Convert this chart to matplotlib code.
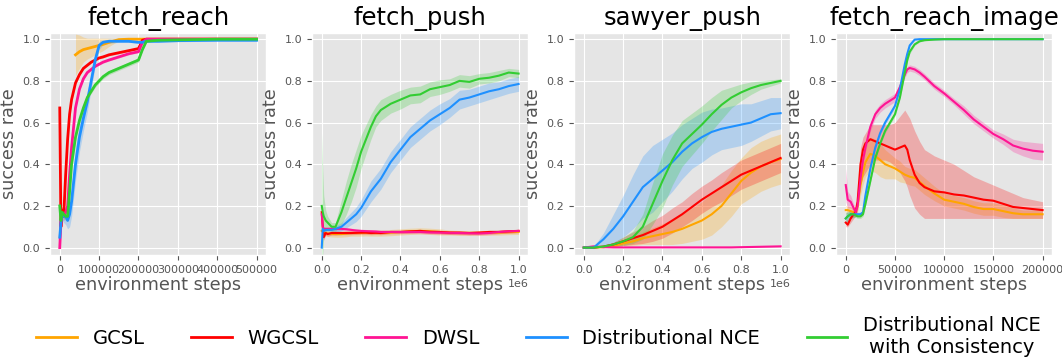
import numpy as np
import matplotlib
matplotlib.use("Agg")
import matplotlib.pyplot as plt
from matplotlib.lines import Line2D

plt.style.use("ggplot")

# method names / colours
methods = ["GCSL", "WGCSL", "DWSL", "Distributional NCE", "Distributional NCE\nwith Consistency"]
colors = ["orange", "red", "deeppink", "dodgerblue", "limegreen"]

# ---- fetch_reach ----
reach_x = [0, 3000, 6000, 10000, 15000, 20000, 25000, 30000, 40000, 50000, 60000, 70000, 80000,
           90000, 100000, 110000, 125000, 150000, 175000, 200000, 210000, 220000, 250000, 300000,
           400000, 500000]
reach_gcsl_x = [40000, 50000, 60000, 70000, 80000, 90000, 100000, 110000, 125000, 150000, 175000,
                200000, 250000, 300000, 400000, 500000]
reach_gcsl = [0.925, 0.94, 0.95, 0.955, 0.96, 0.965, 0.97, 0.975, 0.985, 0.998, 1.0, 1.0, 1.0, 1.0, 1.0, 1.0]
reach_gcsl_sd = [0.1, 0.08, 0.06, 0.05, 0.045, 0.04, 0.035, 0.03, 0.02, 0.005, 0.002, 0.0, 0.0, 0.0, 0.0, 0.0]
reach_wgcsl = [0.67, 0.1, 0.18, 0.15, 0.35, 0.52, 0.64, 0.71, 0.79, 0.83, 0.86, 0.875, 0.89, 0.9,
               0.91, 0.915, 0.925, 0.935, 0.945, 0.955, 0.995, 1.0, 1.0, 1.0, 1.0, 1.0]
reach_wgcsl_sd = [0.0, 0.02, 0.02, 0.02, 0.02, 0.01, 0.01, 0.01, 0.005, 0.005, 0.005, 0.005, 0.005,
                  0.005, 0.005, 0.005, 0.005, 0.005, 0.005, 0.005, 0.003, 0.0, 0.0, 0.0, 0.0, 0.0]
reach_dwsl = [0.0, 0.12, 0.16, 0.15, 0.17, 0.2, 0.35, 0.48, 0.67, 0.76, 0.81, 0.84, 0.855, 0.87,
              0.88, 0.89, 0.9, 0.915, 0.93, 0.94, 0.985, 1.0, 1.0, 1.0, 1.0, 1.0]
reach_dwsl_sd = [0.0, 0.04, 0.03, 0.02, 0.02, 0.02, 0.01, 0.01, 0.005, 0.005, 0.005, 0.005, 0.005,
                 0.005, 0.005, 0.005, 0.005, 0.005, 0.005, 0.005, 0.003, 0.0, 0.0, 0.0, 0.0, 0.0]
reach_dnce = [0.05, 0.12, 0.16, 0.15, 0.15, 0.13, 0.16, 0.22, 0.4, 0.53, 0.62, 0.7, 0.8, 0.9, 0.97,
              0.985, 0.99, 0.99, 0.99, 0.985, 0.985, 0.99, 0.99, 0.993, 0.995, 0.995]
reach_dnce_sd = [0.04, 0.04, 0.03, 0.03, 0.04, 0.04, 0.06, 0.07, 0.08, 0.07, 0.06, 0.05, 0.04, 0.03,
                 0.02, 0.01, 0.01, 0.005, 0.005, 0.005, 0.005, 0.005, 0.005, 0.005, 0.005, 0.005]
reach_dnce_c = [0.2, 0.13, 0.17, 0.16, 0.15, 0.15, 0.27, 0.4, 0.53, 0.61, 0.67, 0.72, 0.75, 0.78, 0.8,
                0.82, 0.84, 0.86, 0.88, 0.9, 0.95, 0.99, 0.995, 0.997, 1.0, 1.0]
reach_dnce_c_sd = [0.03, 0.03, 0.02, 0.02, 0.02, 0.02, 0.02, 0.02, 0.015, 0.01, 0.01, 0.01, 0.01, 0.01,
                   0.01, 0.01, 0.01, 0.01, 0.01, 0.01, 0.005, 0.003, 0.0, 0.0, 0.0, 0.0]

# ---- fetch_push ----
push_x = [0, 5e3, 1e4, 2e4, 3e4, 5e4, 7e4, 1e5, 1.25e5, 1.5e5, 1.75e5, 2e5, 2.25e5, 2.5e5, 2.75e5,
          3e5, 3.5e5, 4e5, 4.5e5, 5e5, 5.5e5, 6e5, 6.5e5, 7e5, 7.5e5, 8e5, 8.5e5, 9e5, 9.5e5, 1e6]
push_gcsl = [0.08, 0.075, 0.07, 0.07, 0.068, 0.066, 0.065, 0.065, 0.067, 0.07, 0.07, 0.07, 0.071,
             0.07, 0.07, 0.07, 0.072, 0.075, 0.078, 0.08, 0.078, 0.075, 0.072, 0.07, 0.07, 0.07,
             0.071, 0.072, 0.074, 0.075]
push_gcsl_sd = [0.02, 0.02, 0.015, 0.015, 0.015, 0.015, 0.015, 0.015, 0.015, 0.015, 0.015, 0.015,
                0.015, 0.015, 0.015, 0.015, 0.015, 0.015, 0.015, 0.015, 0.015, 0.015, 0.012, 0.012,
                0.012, 0.012, 0.012, 0.012, 0.012, 0.012]
push_wgcsl = [0.17, 0.1, 0.05, 0.07, 0.065, 0.07, 0.07, 0.07, 0.07, 0.07, 0.071, 0.072, 0.072, 0.07,
              0.071, 0.07, 0.075, 0.075, 0.078, 0.08, 0.076, 0.075, 0.072, 0.072, 0.07, 0.072, 0.075,
              0.075, 0.078, 0.08]
push_wgcsl_sd = [0.01, 0.02, 0.015, 0.01, 0.01, 0.01, 0.01, 0.008, 0.008, 0.008, 0.008, 0.008, 0.008,
                 0.008, 0.008, 0.008, 0.008, 0.008, 0.008, 0.008, 0.008, 0.008, 0.008, 0.008, 0.008,
                 0.008, 0.008, 0.008, 0.008, 0.008]
push_dwsl = [0.16, 0.1, 0.09, 0.09, 0.09, 0.09, 0.09, 0.09, 0.088, 0.085, 0.082, 0.08, 0.079, 0.078,
             0.077, 0.075, 0.075, 0.075, 0.075, 0.075, 0.073, 0.072, 0.071, 0.07, 0.069, 0.068, 0.07,
             0.075, 0.078, 0.08]
push_dwsl_sd = [0.01, 0.01, 0.008, 0.008, 0.008, 0.008, 0.008, 0.008, 0.008, 0.008, 0.008, 0.008,
                0.008, 0.008, 0.008, 0.008, 0.008, 0.008, 0.008, 0.008, 0.008, 0.008, 0.008, 0.008,
                0.008, 0.008, 0.008, 0.008, 0.008, 0.008]
push_dnce = [0.0, 0.09, 0.08, 0.085, 0.085, 0.085, 0.09, 0.1, 0.12, 0.14, 0.16, 0.19, 0.23, 0.27, 0.3,
             0.33, 0.41, 0.47, 0.53, 0.57, 0.61, 0.64, 0.67, 0.71, 0.72, 0.735, 0.75, 0.76, 0.775, 0.785]
push_dnce_sd = [0.01, 0.015, 0.01, 0.01, 0.01, 0.01, 0.015, 0.02, 0.025, 0.03, 0.035, 0.04, 0.045,
                0.05, 0.05, 0.05, 0.05, 0.05, 0.05, 0.05, 0.05, 0.05, 0.045, 0.045, 0.04, 0.04, 0.04,
                0.035, 0.035, 0.035]
push_dnce_c = [0.2, 0.17, 0.15, 0.13, 0.12, 0.1, 0.1, 0.17, 0.24, 0.31, 0.38, 0.46, 0.52, 0.58, 0.63,
               0.66, 0.69, 0.71, 0.73, 0.735, 0.76, 0.77, 0.78, 0.8, 0.795, 0.81, 0.815, 0.825, 0.84, 0.835]
push_dnce_c_sd = [0.35, 0.2, 0.1, 0.05, 0.03, 0.02, 0.02, 0.06, 0.08, 0.09, 0.09, 0.08, 0.07, 0.06,
                  0.05, 0.05, 0.045, 0.045, 0.04, 0.04, 0.035, 0.035, 0.03, 0.03, 0.03, 0.025, 0.025,
                  0.025, 0.02, 0.02]

# ---- sawyer_push ----
sawyer_x = [0, 5e4, 1e5, 1.5e5, 2e5, 2.5e5, 3e5, 3.5e5, 4e5, 4.5e5, 5e5, 5.5e5, 6e5, 6.5e5, 7e5,
            7.5e5, 8e5, 8.5e5, 9e5, 9.5e5, 1e6]
sawyer_gcsl = [0, 0, 0.002, 0.008, 0.02, 0.03, 0.045, 0.055, 0.065, 0.075, 0.09, 0.11, 0.13, 0.16,
               0.2, 0.26, 0.32, 0.36, 0.39, 0.41, 0.425]
sawyer_gcsl_sd = [0, 0, 0.002, 0.005, 0.01, 0.02, 0.03, 0.04, 0.05, 0.06, 0.07, 0.08, 0.09, 0.1, 0.1,
                  0.11, 0.11, 0.12, 0.12, 0.12, 0.12]
sawyer_wgcsl = [0, 0, 0.005, 0.015, 0.03, 0.045, 0.06, 0.08, 0.1, 0.13, 0.16, 0.195, 0.23, 0.26, 0.29,
                0.32, 0.35, 0.37, 0.39, 0.41, 0.43]
sawyer_wgcsl_sd = [0, 0, 0.005, 0.01, 0.02, 0.03, 0.04, 0.05, 0.055, 0.06, 0.06, 0.065, 0.065, 0.065,
                   0.07, 0.07, 0.07, 0.07, 0.07, 0.07, 0.07]
sawyer_dwsl = [0, 0.006, 0.002, 0.001, 0.001, 0.001, 0.001, 0.001, 0.001, 0.001, 0.001, 0.001, 0.001,
               0.001, 0.001, 0.001, 0.002, 0.003, 0.004, 0.005, 0.006]
sawyer_dwsl_sd = [0, 0.002, 0.001, 0.001, 0.001, 0.001, 0.001, 0.001, 0.001, 0.001, 0.001, 0.001,
                  0.001, 0.001, 0.001, 0.001, 0.001, 0.001, 0.001, 0.001, 0.001]
sawyer_dnce = [0, 0.0, 0.04, 0.09, 0.15, 0.22, 0.29, 0.33, 0.37, 0.41, 0.46, 0.5, 0.53, 0.555, 0.57,
               0.58, 0.59, 0.6, 0.62, 0.64, 0.645]
sawyer_dnce_sd = [0, 0.005, 0.03, 0.07, 0.1, 0.13, 0.15, 0.16, 0.15, 0.14, 0.13, 0.12, 0.12, 0.11, 0.1,
                  0.1, 0.1, 0.09, 0.085, 0.08, 0.075]
sawyer_dnce_c = [0, 0, 0.005, 0.015, 0.03, 0.05, 0.1, 0.21, 0.32, 0.42, 0.5, 0.545, 0.59, 0.64, 0.685,
                 0.72, 0.745, 0.765, 0.78, 0.79, 0.8]
sawyer_dnce_c_sd = [0, 0, 0.005, 0.01, 0.02, 0.03, 0.06, 0.1, 0.13, 0.12, 0.11, 0.1, 0.09, 0.08, 0.07,
                    0.05, 0.04, 0.03, 0.02, 0.015, 0.01]

# ---- fetch_reach_image ----
image_x = [0, 2000, 5000, 8000, 10000, 12000, 15000, 17500, 20000, 25000, 30000, 35000, 40000, 45000,
           50000, 55000, 60000, 62500, 65000, 70000, 75000, 80000, 90000, 100000, 110000, 120000,
           130000, 140000, 150000, 160000, 170000, 180000, 190000, 200000]
image_gcsl = [0.18, 0.18, 0.175, 0.17, 0.17, 0.2, 0.3, 0.36, 0.41, 0.45, 0.44, 0.42, 0.4, 0.39, 0.38,
              0.365, 0.35, 0.345, 0.34, 0.335, 0.315, 0.295, 0.26, 0.23, 0.22, 0.21, 0.195, 0.185,
              0.185, 0.175, 0.165, 0.16, 0.16, 0.16]
image_gcsl_sd = [0.02, 0.02, 0.02, 0.02, 0.02, 0.03, 0.05, 0.06, 0.07, 0.08, 0.08, 0.08, 0.07, 0.06,
                 0.05, 0.05, 0.04, 0.04, 0.04, 0.04, 0.04, 0.04, 0.035, 0.03, 0.03, 0.03, 0.03, 0.03,
                 0.03, 0.03, 0.025, 0.02, 0.02, 0.02]
image_wgcsl = [0.12, 0.11, 0.14, 0.16, 0.17, 0.22, 0.4, 0.47, 0.5, 0.52, 0.51, 0.5, 0.49, 0.48, 0.47,
               0.48, 0.49, 0.47, 0.42, 0.35, 0.31, 0.29, 0.27, 0.265, 0.255, 0.25, 0.24, 0.23, 0.225,
               0.21, 0.195, 0.19, 0.185, 0.18]
image_wgcsl_lo = [0.1, 0.1, 0.12, 0.14, 0.15, 0.18, 0.3, 0.34, 0.36, 0.4, 0.42, 0.42, 0.42, 0.41, 0.39,
                  0.36, 0.32, 0.29, 0.25, 0.19, 0.16, 0.14, 0.14, 0.14, 0.14, 0.14, 0.14, 0.14, 0.14,
                  0.14, 0.14, 0.14, 0.14, 0.14]
image_wgcsl_hi = [0.14, 0.13, 0.16, 0.18, 0.19, 0.26, 0.48, 0.53, 0.55, 0.59, 0.59, 0.59, 0.59, 0.59,
                  0.6, 0.63, 0.66, 0.64, 0.62, 0.56, 0.51, 0.47, 0.44, 0.42, 0.4, 0.37, 0.34, 0.32, 0.3,
                  0.28, 0.26, 0.24, 0.23, 0.22]
image_dwsl = [0.3, 0.23, 0.22, 0.19, 0.17, 0.2, 0.33, 0.42, 0.48, 0.58, 0.64, 0.67, 0.69, 0.705, 0.72,
              0.77, 0.83, 0.855, 0.862, 0.855, 0.84, 0.82, 0.775, 0.74, 0.7, 0.66, 0.615, 0.58, 0.545,
              0.52, 0.49, 0.475, 0.465, 0.46]
image_dwsl_sd = [0.08, 0.04, 0.03, 0.02, 0.02, 0.02, 0.02, 0.02, 0.02, 0.02, 0.02, 0.02, 0.02, 0.02,
                 0.02, 0.02, 0.015, 0.015, 0.015, 0.015, 0.015, 0.015, 0.015, 0.015, 0.015, 0.02, 0.02,
                 0.02, 0.02, 0.025, 0.03, 0.035, 0.04, 0.04]
image_dnce = [0.14, 0.15, 0.16, 0.16, 0.16, 0.16, 0.16, 0.17, 0.25, 0.38, 0.48, 0.55, 0.6, 0.64, 0.68,
              0.76, 0.88, 0.93, 0.97, 0.998, 1.0, 1.0, 1.0, 1.0, 1.0, 1.0, 1.0, 1.0, 1.0, 1.0, 1.0, 1.0,
              1.0, 1.0]
image_dnce_sd = [0.03, 0.02, 0.02, 0.015, 0.01, 0.01, 0.01, 0.01, 0.01, 0.01, 0.01, 0.01, 0.01, 0.01,
                 0.01, 0.01, 0.01, 0.01, 0.005, 0.002, 0, 0, 0, 0, 0, 0, 0, 0, 0, 0, 0, 0, 0, 0]
image_dnce_c = [0.14, 0.15, 0.16, 0.16, 0.155, 0.15, 0.15, 0.16, 0.21, 0.32, 0.43, 0.5, 0.56, 0.6, 0.64,
                0.72, 0.84, 0.9, 0.94, 0.975, 0.99, 0.995, 0.998, 1.0, 1.0, 1.0, 1.0, 1.0, 1.0, 1.0,
                1.0, 1.0, 1.0, 1.0]
image_dnce_c_sd = [0.03, 0.02, 0.02, 0.015, 0.01, 0.01, 0.01, 0.01, 0.01, 0.01, 0.01, 0.01, 0.01, 0.01,
                   0.01, 0.01, 0.01, 0.01, 0.01, 0.005, 0.003, 0.002, 0, 0, 0, 0, 0, 0, 0, 0, 0, 0, 0, 0]


def draw(ax, x, y, lo, hi, color, lw):
    ax.fill_between(x, lo, hi, color=color, alpha=0.25, linewidth=0)
    ax.plot(x, y, color=color, linewidth=lw)


def draw_sd(ax, x, y, sd, color, lw):
    y = np.asarray(y)
    sd = np.asarray(sd)
    draw(ax, x, y, y - sd, y + sd, color, lw)


fig, axes = plt.subplots(1, 4, figsize=(10.62, 3.58), dpi=100)
fig.subplots_adjust(left=0.047, right=0.991, top=0.908, bottom=0.288, wspace=0.21)

ax = axes[0]
draw_sd(ax, reach_gcsl_x, reach_gcsl, reach_gcsl_sd, colors[0], 2)
draw_sd(ax, reach_x, reach_wgcsl, reach_wgcsl_sd, colors[1], 2)
draw_sd(ax, reach_x, reach_dwsl, reach_dwsl_sd, colors[2], 2)
draw_sd(ax, reach_x, reach_dnce, reach_dnce_sd, colors[3], 2)
draw_sd(ax, reach_x, reach_dnce_c, reach_dnce_c_sd, colors[4], 2)
ax.set_title("fetch_reach")

ax = axes[1]
draw_sd(ax, push_x, push_gcsl, push_gcsl_sd, colors[0], 1.5)
draw_sd(ax, push_x, push_wgcsl, push_wgcsl_sd, colors[1], 1.5)
draw_sd(ax, push_x, push_dwsl, push_dwsl_sd, colors[2], 1.5)
draw_sd(ax, push_x, push_dnce, push_dnce_sd, colors[3], 1.5)
draw_sd(ax, push_x, push_dnce_c, push_dnce_c_sd, colors[4], 1.5)
ax.set_title("fetch_push")

ax = axes[2]
draw_sd(ax, sawyer_x, sawyer_gcsl, sawyer_gcsl_sd, colors[0], 1.5)
draw_sd(ax, sawyer_x, sawyer_wgcsl, sawyer_wgcsl_sd, colors[1], 1.5)
draw_sd(ax, sawyer_x, sawyer_dwsl, sawyer_dwsl_sd, colors[2], 1.5)
draw_sd(ax, sawyer_x, sawyer_dnce, sawyer_dnce_sd, colors[3], 1.5)
draw_sd(ax, sawyer_x, sawyer_dnce_c, sawyer_dnce_c_sd, colors[4], 1.5)
ax.set_title("sawyer_push")

ax = axes[3]
draw_sd(ax, image_x, image_gcsl, image_gcsl_sd, colors[0], 1.5)
draw(ax, image_x, image_wgcsl, image_wgcsl_lo, image_wgcsl_hi, colors[1], 1.5)
draw_sd(ax, image_x, image_dwsl, image_dwsl_sd, colors[2], 1.5)
draw_sd(ax, image_x, image_dnce, image_dnce_sd, colors[3], 1.5)
draw_sd(ax, image_x, image_dnce_c, image_dnce_c_sd, colors[4], 1.5)
ax.set_title("fetch_reach_image")

for ax in axes:
    ax.set_ylim(-0.035, 1.03)
    ax.set_yticks([0.0, 0.2, 0.4, 0.6, 0.8, 1.0])
    ax.title.set_fontsize(17.5)
    ax.title.set_color("black")
    ax.set_xlabel("environment steps", fontsize=12.7, color="#555555", labelpad=1)
    ax.set_ylabel("success rate", fontsize=12.7, color="#555555", labelpad=3)
    ax.tick_params(labelsize=8, colors="#555555")
    ax.xaxis.get_offset_text().set_fontsize(8)

handles = [Line2D([], [], color=c, linewidth=2) for c in colors]
leg = fig.legend(handles, methods, loc="lower center", ncol=5, frameon=False, fontsize=14,
                 bbox_to_anchor=(0.507, -0.045), handlelength=2.1, handletextpad=0.8,
                 columnspacing=2.4)
for t in leg.get_texts():
    t.set_multialignment("center")

fig.savefig("out.png", dpi=100)
